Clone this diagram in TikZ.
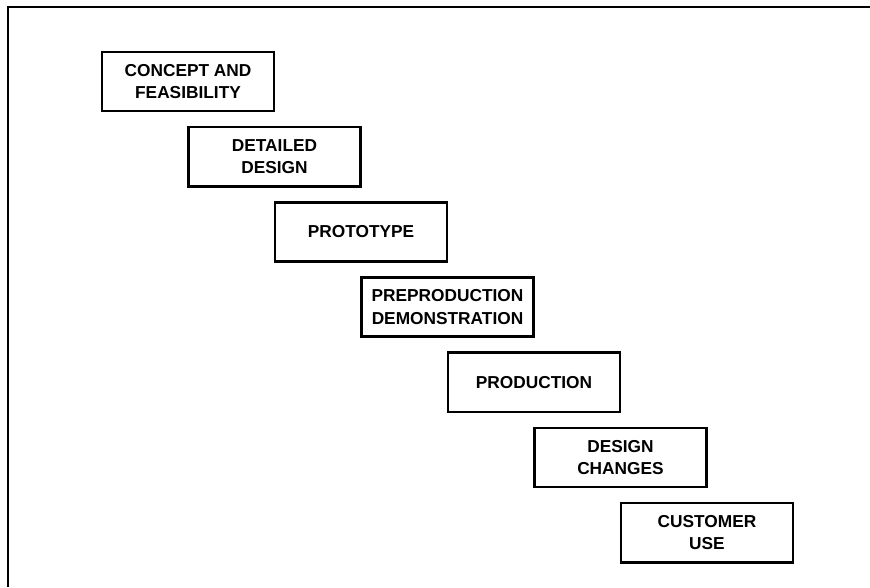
\documentclass[tikz,border=0pt]{standalone}
\usepackage{fontspec}
\setsansfont{Liberation Sans}
\usepackage{tikz}
\usetikzlibrary{positioning}

\tikzset{
  stage/.style={draw, line width=1.8pt, minimum width=4.3cm, minimum height=1.48cm,
    align=center, font=\sffamily\bfseries\fontsize{12.3}{16}\selectfont, inner sep=1pt},
  frameline/.style={line width=1.5pt}
}

\begin{document}
\begin{tikzpicture}[x=0.025cm, y=-0.025cm]
			
			\useasboundingbox (0,0) rectangle (870,587);
			
			% first box and the step between boxes
			\def\xs{188}
			\def\ys{81.5}
			\def\dx{86.5}
			\def\dy{75.2}
			
			% open frame, top and left side only
			\draw[frameline] (8,587) -- (8,7) -- (870,7);
			
			\foreach \lbl [count=\i from 0] in {CONCEPT AND\\FEASIBILITY, DETAILED\\DESIGN, PROTOTYPE,
			  PREPRODUCTION\\DEMONSTRATION, PRODUCTION, DESIGN\\CHANGES, CUSTOMER\\USE}
			\node[stage] (st\i) at (\xs+\i*\dx, \ys+\i*\dy) {\lbl};
			
			\end{tikzpicture}
\end{document}
